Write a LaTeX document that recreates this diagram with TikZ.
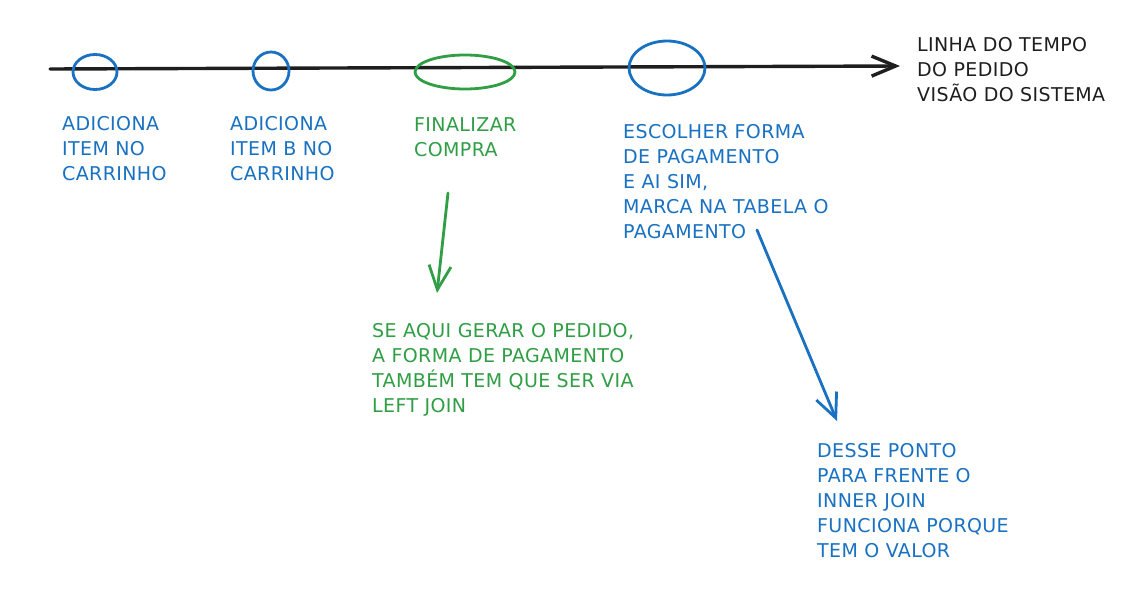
\documentclass[tikz,border=0pt]{standalone}
\usepackage{fontspec}
\newfontfamily\hand[LetterSpace=2]{DejaVu Sans}
\usetikzlibrary{arrows.meta,shapes.geometric}
\definecolor{exblue}{HTML}{1971C2}
\definecolor{exgreen}{HTML}{2F9E44}
\definecolor{exblack}{HTML}{1E1E1E}
\begin{document}
\begin{tikzpicture}[x=1pt,y=-1pt,
  lbl/.style={anchor=north west, inner sep=0pt, align=left, font=\hand\fontsize{19}{25}\selectfont},
  ring/.style={draw, ellipse, line width=2.8pt, inner sep=0pt},
  barb/.style={-{Straight Barb[length=24pt,width=22pt,line width=2.8pt]}, line width=2.8pt, line cap=round}
]
\useasboundingbox (0,0) rectangle (1140,589);
\fill[white] (0,0) rectangle (1140,589);

% timeline
\coordinate (tl0) at (50,69);
\coordinate (tl1) at (900,66);
\draw[exblack, line width=3.4pt, line cap=round, -{Straight Barb[length=24pt,width=20pt,line width=3.4pt]}] (tl0) -- (tl1);

% rings
\node[ring, exblue, minimum width=44pt, minimum height=35pt] (c1) at (95,72) {};
\node[ring, exblue, minimum width=36pt, minimum height=38pt] (c2) at (271,71) {};
\node[ring, exgreen, minimum width=100pt, minimum height=34pt] (c3) at (465,72) {};
\node[ring, exblue, minimum width=76pt, minimum height=54pt] (c4) at (667,68) {};

% labels
\node[lbl, exblue] (t1) at (62,116) {ADICIONA\\ITEM NO\\CARRINHO};
\node[lbl, exblue] (t2) at (230,116) {ADICIONA\\ITEM B NO\\CARRINHO};
\node[lbl, exgreen] (t3) at (414,117) {FINALIZAR\\COMPRA};
\node[lbl, exblue] (t4) at (623,124) {ESCOLHER FORMA\\DE PAGAMENTO\\E AI SIM,\\MARCA NA TABELA O\\PAGAMENTO};
\node[lbl, exblack] (t5) at (917,37) {LINHA DO TEMPO\\DO PEDIDO\\VISÃO DO SISTEMA};
\node[lbl, exgreen] (t6) at (372,323) {SE AQUI GERAR O PEDIDO,\\A FORMA DE PAGAMENTO\\TAMBÉM TEM QUE SER VIA\\LEFT JOIN};
\node[lbl, exblue] (t7) at (817,443) {DESSE PONTO\\PARA FRENTE O\\INNER JOIN\\FUNCIONA PORQUE\\TEM O VALOR};

% arrows
\coordinate (g0) at (448,193);
\coordinate (g1) at (437,293);
\draw[barb, exgreen] (g0) -- (g1);
\coordinate (b0) at (757,230);
\coordinate (b1) at (837,421);
\draw[barb, exblue] (b0) -- (b1);
\end{tikzpicture}
\end{document}
